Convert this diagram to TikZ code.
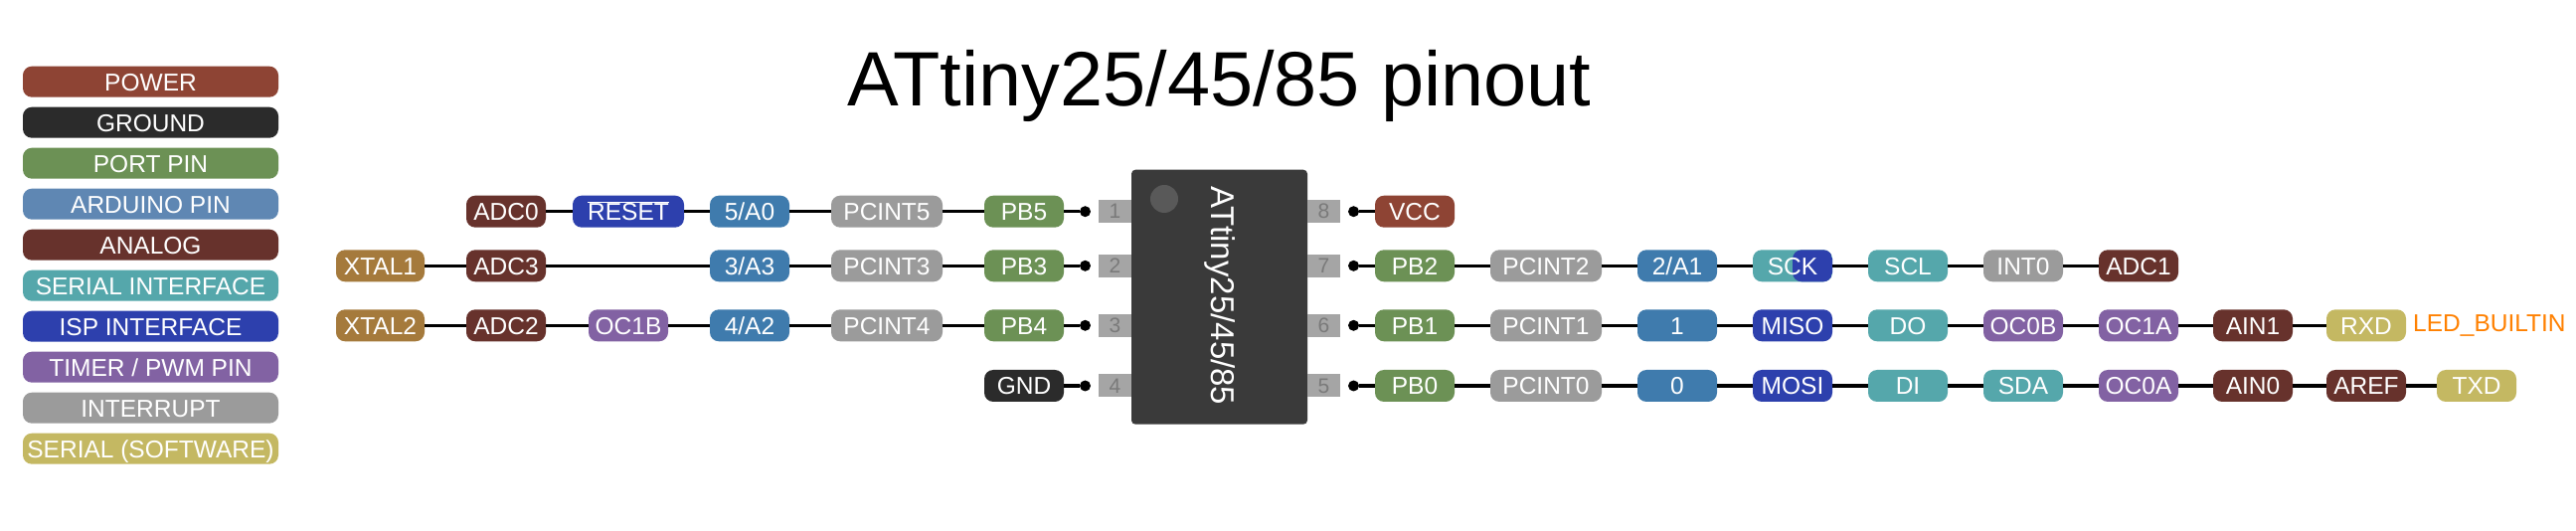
\documentclass[tikz,border=0pt]{standalone}
\usepackage{fontspec}
\setmainfont{Liberation Sans}
\usetikzlibrary{arrows.meta,positioning}
\definecolor{powercol}{HTML}{8E4434}
\definecolor{groundcol}{HTML}{2B2B2B}
\definecolor{portcol}{HTML}{6C9155}
\definecolor{arduinocol}{HTML}{3F7BAD}
\definecolor{keyarduinocol}{HTML}{5F87B3}
\definecolor{analogcol}{HTML}{67322C}
\definecolor{serialcol}{HTML}{55A7AB}
\definecolor{ispcol}{HTML}{2D40AD}
\definecolor{timercol}{HTML}{8262A3}
\definecolor{interruptcol}{HTML}{9B9B9B}
\definecolor{softcol}{HTML}{C4B862}
\definecolor{crystalcol}{HTML}{A57A3C}
\definecolor{chipcol}{HTML}{3A3A3A}
\tikzset{
  pill/.style={rounded corners=9pt,minimum width=80pt,minimum height=32pt,inner sep=0pt,outer sep=0pt,
    text=white,text height=18pt,text depth=0pt,font=\fontsize{24.5}{30}\selectfont},
  wide/.style={minimum width=112pt},
  keybar/.style={pill,minimum width=257pt,minimum height=31pt},
  power/.style={pill,fill=powercol},
  ground/.style={pill,fill=groundcol},
  port/.style={pill,fill=portcol},
  arduino/.style={pill,fill=arduinocol},
  analog/.style={pill,fill=analogcol},
  serial/.style={pill,fill=serialcol},
  isp/.style={pill,fill=ispcol},
  timer/.style={pill,fill=timercol},
  interrupt/.style={pill,fill=interruptcol},
  softserial/.style={pill,fill=softcol},
  crystal/.style={pill,fill=crystalcol,minimum width=89pt},
  pinbox/.style={fill=interruptcol!90!white,minimum width=33pt,minimum height=23pt,inner sep=0pt,outer sep=0pt,
    text=black!52,font=\fontsize{21}{24}\selectfont},
  pindot/.style={circle,fill=black,minimum size=11pt,inner sep=0pt,outer sep=0pt},
  wire/.style={line width=3.5pt,black}
}

\begin{document}
\begin{tikzpicture}[x=1pt,y=1pt,node distance=10pt and 36pt]
  \useasboundingbox (0,0) rectangle (2591,533);
  \node[anchor=base,inner sep=0pt,font=\fontsize{77.5}{90}\selectfont] (title) at (1226.5,426) {ATtiny25/45/85 pinout};
  % colour key
  \node[keybar,fill=powercol] (keypower) at (151.5,450.8) {POWER};
  \node[keybar,fill=groundcol,below=of keypower] (keyground) {GROUND};
  \node[keybar,fill=portcol,below=of keyground] (keyport) {PORT PIN};
  \node[keybar,fill=keyarduinocol,below=of keyport] (keyarduino) {ARDUINO PIN};
  \node[keybar,fill=analogcol,below=of keyarduino] (keyanalog) {ANALOG};
  \node[keybar,fill=serialcol,below=of keyanalog] (keyserial) {SERIAL INTERFACE};
  \node[keybar,fill=ispcol,below=of keyserial] (keyisp) {ISP INTERFACE};
  \node[keybar,fill=timercol,below=of keyisp] (keytimer) {TIMER / PWM PIN};
  \node[keybar,fill=interruptcol,below=of keytimer] (keyinterrupt) {INTERRUPT};
  \node[keybar,fill=softcol,below=of keyinterrupt] (keysoft) {SERIAL (SOFTWARE)};
  % chip
  \node[fill=chipcol,rounded corners=4pt,outer sep=0pt,minimum width=177pt,minimum height=256pt] (chip) at (1226.5,234.3) {};
  \node[circle,fill=black!65,minimum size=28pt,inner sep=0pt] (chipmark) at (1171,333) {};
  \node[rotate=-90,text=white,font=\fontsize{33}{36}\selectfont] (chipname) at (1227,235.5) {ATtiny25/45/85};
  \node[pinbox,anchor=east] (pin1) at (1138,320.3) {1};
  \node[pinbox,anchor=east] (pin2) at (1138,265.7) {2};
  \node[pinbox,anchor=east] (pin3) at (1138,205.7) {3};
  \node[pinbox,anchor=east] (pin4) at (1138,145) {4};
  \node[pinbox,anchor=west] (pin8) at (1315,320.3) {8};
  \node[pinbox,anchor=west] (pin7) at (1315,265.7) {7};
  \node[pinbox,anchor=west] (pin6) at (1315,205.7) {6};
  \node[pinbox,anchor=west] (pin5) at (1315,145) {5};
  \node[pindot,left=8pt of pin1] (dot1) {};
  \node[pindot,left=8pt of pin2] (dot2) {};
  \node[pindot,left=8pt of pin3] (dot3) {};
  \node[pindot,left=8pt of pin4] (dot4) {};
  \node[pindot,right=8pt of pin8] (dot8) {};
  \node[pindot,right=8pt of pin7] (dot7) {};
  \node[pindot,right=8pt of pin6] (dot6) {};
  \node[pindot,right=8pt of pin5] (dot5) {};
  % left side
  \node[port,left=16pt of dot1] (pb5) {PB5};
  \node[interrupt,wide,left=42pt of pb5] (pcint5) {PCINT5};
  \node[arduino,left=42pt of pcint5] (a0) {5/A0};
  \node[isp,wide,left=26pt of a0] (reset) {$\overline{\mbox{RESET}}$};
  \node[analog,left=27pt of reset] (adc0) {ADC0};
  \node[port,left=16pt of dot2] (pb3) {PB3};
  \node[interrupt,wide,left=42pt of pb3] (pcint3) {PCINT3};
  \node[arduino,left=42pt of pcint3] (a3) {3/A3};
  \node[analog,left=165pt of a3] (adc3) {ADC3};
  \node[crystal,left=42pt of adc3] (xtal1) {XTAL1};
  \node[port,left=16pt of dot3] (pb4) {PB4};
  \node[interrupt,wide,left=42pt of pb4] (pcint4) {PCINT4};
  \node[arduino,left=42pt of pcint4] (a2) {4/A2};
  \node[timer,left=42pt of a2] (oc1b) {OC1B};
  \node[analog,left=43pt of oc1b] (adc2) {ADC2};
  \node[crystal,left=42pt of adc2] (xtal2) {XTAL2};
  \node[ground,left=16pt of dot4] (gnd) {GND};
  % right side
  \node[power,right=16pt of dot8] (vcc) {VCC};
  \node[port,right=16pt of dot7] (pb2) {PB2};
  \node[interrupt,wide,right=of pb2] (pcint2) {PCINT2};
  \node[arduino,right=of pcint2] (a1) {2/A1};
  \node[serial,right=of a1,path picture={\fill[ispcol] (path picture bounding box.north) rectangle (path picture bounding box.south east);}] (sck) {};
  \node[pill] (scklabel) at (sck) {SCK};
  \node[serial,right=of sck] (scl) {SCL};
  \node[interrupt,right=of scl] (int0) {INT0};
  \node[analog,right=of int0] (adc1) {ADC1};
  \node[port,right=16pt of dot6] (pb1) {PB1};
  \node[interrupt,wide,right=of pb1] (pcint1) {PCINT1};
  \node[arduino,right=of pcint1] (d1) {1};
  \node[isp,right=of d1] (miso) {MISO};
  \node[serial,right=of miso] (do) {DO};
  \node[timer,right=of do] (oc0b) {OC0B};
  \node[timer,right=of oc0b] (oc1a) {OC1A};
  \node[analog,right=35pt of oc1a] (ain1) {AIN1};
  \node[softserial,right=34pt of ain1] (rxd) {RXD};
  \node[right=7pt of rxd,inner sep=0pt,text=orange,font=\fontsize{24.5}{30}\selectfont] (ledbuiltin) {LED\_BUILTIN};
  \node[port,right=16pt of dot5] (pb0) {PB0};
  \node[interrupt,wide,right=of pb0] (pcint0) {PCINT0};
  \node[arduino,right=of pcint0] (d0) {0};
  \node[isp,right=of d0] (mosi) {MOSI};
  \node[serial,right=of mosi] (di) {DI};
  \node[serial,right=of di] (sda) {SDA};
  \node[timer,right=of sda] (oc0a) {OC0A};
  \node[analog,right=35pt of oc0a] (ain0) {AIN0};
  \node[analog,right=34pt of ain0] (aref) {AREF};
  \node[softserial,right=31pt of aref] (txd) {TXD};
  % wires
  \draw[wire] (adc0) -- (reset);
  \draw[wire] (reset) -- (a0);
  \draw[wire] (a0) -- (pcint5);
  \draw[wire] (pcint5) -- (pb5);
  \draw[wire] (pb5) -- (dot1);
  \draw[wire] (xtal1) -- (adc3);
  \draw[wire] (adc3) -- (a3);
  \draw[wire] (a3) -- (pcint3);
  \draw[wire] (pcint3) -- (pb3);
  \draw[wire] (pb3) -- (dot2);
  \draw[wire] (xtal2) -- (adc2);
  \draw[wire] (adc2) -- (oc1b);
  \draw[wire] (oc1b) -- (a2);
  \draw[wire] (a2) -- (pcint4);
  \draw[wire] (pcint4) -- (pb4);
  \draw[wire] (pb4) -- (dot3);
  \draw[wire] (gnd) -- (dot4);
  \draw[wire] (dot8) -- (vcc);
  \draw[wire] (dot7) -- (pb2);
  \draw[wire] (pb2) -- (pcint2);
  \draw[wire] (pcint2) -- (a1);
  \draw[wire] (a1) -- (sck);
  \draw[wire] (sck) -- (scl);
  \draw[wire] (scl) -- (int0);
  \draw[wire] (int0) -- (adc1);
  \draw[wire] (dot6) -- (pb1);
  \draw[wire] (pb1) -- (pcint1);
  \draw[wire] (pcint1) -- (d1);
  \draw[wire] (d1) -- (miso);
  \draw[wire] (miso) -- (do);
  \draw[wire] (do) -- (oc0b);
  \draw[wire] (oc0b) -- (oc1a);
  \draw[wire] (oc1a) -- (ain1);
  \draw[wire] (ain1) -- (rxd);
  \draw[wire] (dot5) -- (pb0);
  \draw[wire] (pb0) -- (pcint0);
  \draw[wire] (pcint0) -- (d0);
  \draw[wire] (d0) -- (mosi);
  \draw[wire] (mosi) -- (di);
  \draw[wire] (di) -- (sda);
  \draw[wire] (sda) -- (oc0a);
  \draw[wire] (oc0a) -- (ain0);
  \draw[wire] (ain0) -- (aref);
  \draw[wire] (aref) -- (txd);
\end{tikzpicture}
\end{document}
